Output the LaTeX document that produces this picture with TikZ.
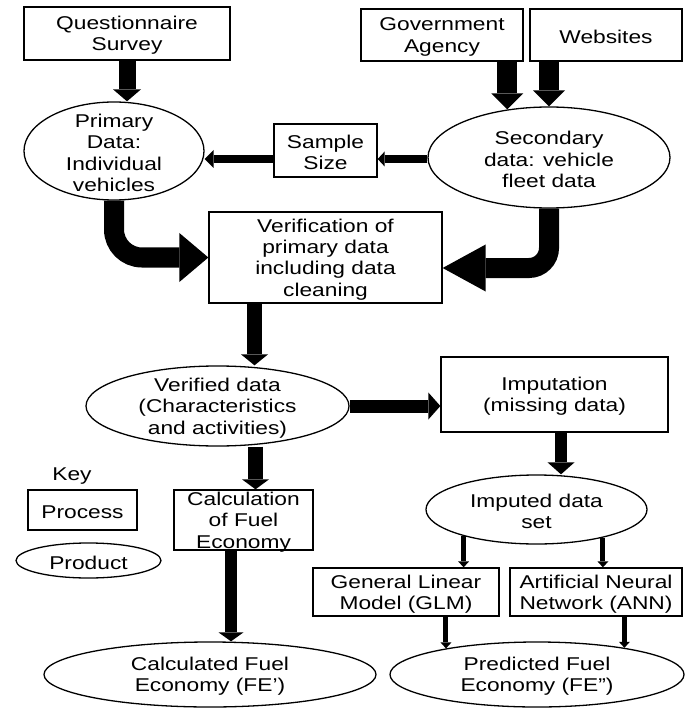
\documentclass[tikz,border=0pt]{standalone}
\usepackage{fontspec}
\setmainfont{Liberation Sans}[FakeStretch=1.23]
\usetikzlibrary{arrows.meta,shapes.geometric}
\newcommand{\tx}{\fontsize{18.5}{21.3}\selectfont}
\begin{document}
\begin{tikzpicture}[x=1pt,y=-1pt,
  box/.style args={#1/#2}{draw, line width=1.3pt, rectangle, inner sep=0pt, minimum width=#1, minimum height=#2},
  prod/.style args={#1/#2}{draw, line width=1.3pt, ellipse, inner sep=0pt, minimum width=#1, minimum height=#2},
  lbl/.style={label={[align=center,font=\tx,inner sep=0pt,yshift=-2pt]center:{#1}}},
  arr/.style args={#1/#2/#3}{draw, line width=#1, -{Triangle[length=#2, width=#3, line width=0pt]}},
  thinarr/.style={arr=5pt/6pt/11pt}]
\useasboundingbox (0,0) rectangle (685,708);

% processes
\node[box=206pt/53pt, lbl={Questionnaire\\Survey}] (qs) at (127,33.5) {};
\node[box=162pt/52pt, lbl={Government\\Agency}] (gov) at (442,35) {};
\node[box=152pt/52pt, lbl={Websites}] (web) at (606,35) {};
\node[box=103pt/53pt, lbl={Sample\\Size}] (ss) at (325.5,150.5) {};
\node[box=233pt/91pt, lbl={Verification of\\primary data\\including data\\cleaning}] (ver) at (325.5,257.5) {};
\node[box=227pt/75pt, lbl={Imputation\\(missing data)}] (imp) at (554.5,394.5) {};
\node[box=139pt/60pt, lbl={Calculation\\of Fuel\\Economy}] (calc) at (243.5,520) {};
\node[box=186pt/48pt, lbl={General Linear\\Model (GLM)}] (glm) at (406,592) {};
\node[box=172pt/48pt, lbl={Artificial Neural\\Network (ANN)}] (ann) at (596,592) {};

% products
\node[prod=180pt/98pt, lbl={Primary\\Data:\\Individual\\vehicles}] (prim) at (114,151) {};
\node[prod=242pt/101pt, lbl={Secondary\\data: vehicle\\fleet data}] (sec) at (549,157.5) {};
\node[prod=263pt/80pt, lbl={Verified data\\(Characteristics\\and activities)}] (verd) at (217.5,406) {};
\node[prod=221pt/69pt, lbl={Imputed data\\set}] (imputed) at (536.5,509.5) {};
\node[prod=332pt/65pt, lbl={Calculated Fuel\\Economy (FE’)}] (calcfe) at (210,674.5) {};
\node[prod=294pt/65pt, lbl={Predicted Fuel\\Economy (FE”)}] (pred) at (537,674.5) {};

% key
\node[font=\tx, inner sep=0pt] (key) at (72,476) {Key};
\node[box=109pt/40pt, lbl={Process}] (proc) at (82.5,510) {};
\node[prod=145pt/35pt, lbl={Product}] (prodk) at (88.5,560.5) {};

% helper coordinates
\coordinate (ssL) at ([yshift=-8.5pt]ss.west);
\coordinate (ssR) at ([yshift=-8.5pt]ss.east);
\coordinate (verR) at ([yshift=-10.5pt]ver.east);
\coordinate (verB) at ([xshift=-71pt]ver.south);
\coordinate (calcT) at ([xshift=12pt]calc.north);
\coordinate (calcB) at ([xshift=-12.5pt]calc.south);
\coordinate (impB) at ([xshift=6.5pt]imp.south);

% connectors
\draw[arr=17pt/12pt/28pt] (qs.south) -- (qs.south |- prim.north);
\draw[arr=20pt/16pt/32pt] (gov.south -| sec.131) -- (sec.131);
\draw[arr=20pt/16pt/32pt] (web.south -| sec.north) -- (sec.north);
\draw[arr=8pt/7pt/15pt] (ssR -| sec.west) -- (ssR);
\draw[arr=8pt/9pt/18pt] (ssL) -- (ssL -| prim.east);
\draw[arr=20pt/29pt/49pt, rounded corners=28pt] (prim.south) -- (prim.south |- ver.west) -- (ver.west);
\draw[arr=20pt/43pt/47pt, rounded corners=20pt] (sec.south) -- (sec.south |- verR) -- (verR);
\draw[arr=15pt/11pt/27pt] (verB) -- (verB |- verd.north);
\draw[arr=13pt/12pt/27pt] (verd.east) -- (verd.east -| imp.west);
\draw[arr=15pt/10pt/27pt] (calcT |- verd.south) -- (calcT);
\draw[arr=12pt/9pt/25pt] (calcB) -- (calcB |- calcfe.north);
\draw[arr=12pt/12pt/27pt] (impB) -- (impB |- imputed.north);
\draw[thinarr] (imputed.200) -- (imputed.200 |- glm.north);
\draw[thinarr] (imputed.-23) -- (imputed.-23 |- ann.north);
\draw[thinarr] (glm.south -| pred.164) -- (pred.164);
\draw[thinarr] (ann.south -| pred.17) -- (pred.17);
\end{tikzpicture}
\end{document}
